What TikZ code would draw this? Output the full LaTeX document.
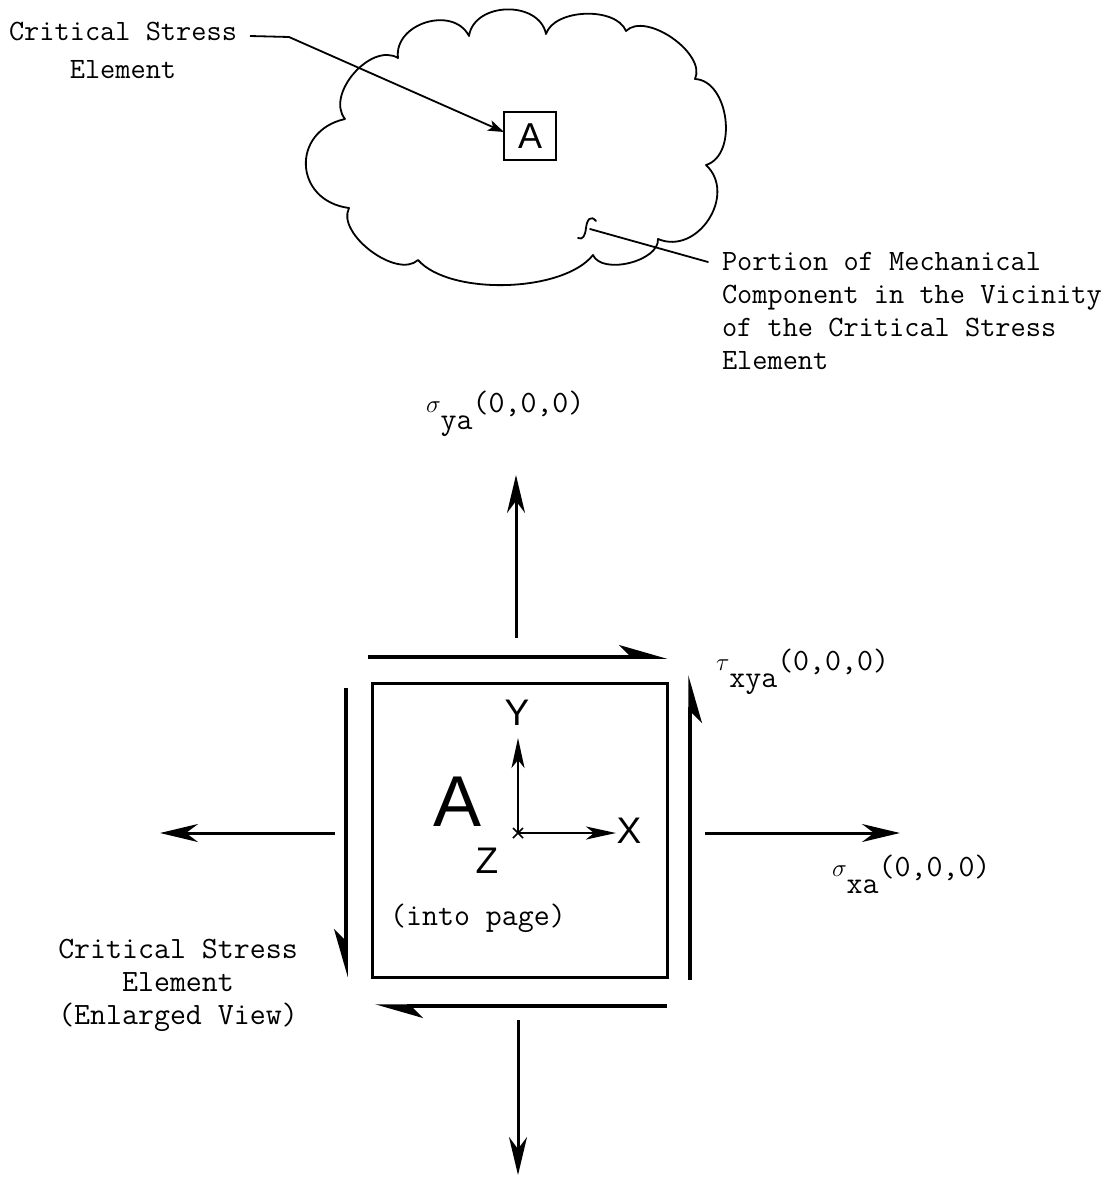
\documentclass[tikz,border=0pt]{standalone}
\usepackage{fontspec}
\setsansfont{Liberation Sans}
\usetikzlibrary{arrows.meta}
\newcommand{\stresslabel}[2]{$#1$\raisebox{-0.55em}{#2}(0,0,0)}
\begin{document}
\begin{tikzpicture}[x=1pt,y=1pt,
  every node/.style={inner sep=0pt, outer sep=0pt},
  typed/.style={font=\ttfamily\fontsize{29.5}{38}\selectfont, align=center},
  typedleft/.style={font=\ttfamily\fontsize{29.5}{33}\selectfont, align=left},
  typedlow/.style={font=\ttfamily\fontsize{31}{33}\selectfont, align=center},
  letter/.style={font=\sffamily\fontsize{37}{37}\selectfont},
  outline/.style={line width=1.8pt, line join=round, line cap=round},
  leader/.style={line width=1.8pt, line join=round, -{Stealth[length=16pt,width=11pt,inset=4pt]}},
  plainleader/.style={line width=1.8pt, line cap=round},
  force/.style={line width=3pt, -{Stealth[length=38pt,width=18pt,inset=12pt]}},
  shearL/.style={line width=3.5pt, -{Stealth[harpoon,length=42pt,width=24pt,inset=12pt]}},
  shearR/.style={line width=3.5pt, -{Stealth[harpoon,swap,length=42pt,width=24pt,inset=12pt]}},
  axis/.style={line width=2.5pt, -{Stealth[length=30pt,width=13pt,inset=8pt]}},
  bump/.style 2 args={bend left=#1, looseness=#2},
]
\useasboundingbox (0,0) rectangle (1114,-1186);

% ---------- outline of the component portion ----------
\coordinate (k1) at (345,-119);
\coordinate (k2) at (398,-58);
\coordinate (k3) at (469,-36);
\coordinate (k4) at (546,-34);
\coordinate (k5) at (626,-31);
\coordinate (k6) at (695,-79);
\coordinate (k7) at (706,-165);
\coordinate (k8) at (658,-239);
\coordinate (k9) at (593,-255);
\coordinate (k10) at (418,-260);
\coordinate (k11) at (349,-208);
\draw[outline] (k1) to[bump={80}{1.0}] (k2) to[bump={80}{1.2}] (k3)
  to[bump={80}{1.15}] (k4) to[bump={70}{0.85}] (k5) to[bump={80}{0.85}] (k6)
  to[bump={80}{1.0}] (k7) to[bump={80}{1.25}] (k8) to[bump={80}{0.85}] (k9)
  to[bump={50}{0.7}] (k10) to[bump={80}{0.85}] (k11) to[bump={80}{1.6}] (k1);

% small element A inside the component
\node[draw, line width=2pt, minimum width=52pt, minimum height=48pt,
      font=\sffamily\fontsize{36}{36}\selectfont] (smallA) at (530,-136) {A};

% label of the element, with its leader
\node[typed] (lblTop) at (123,-50) {Critical Stress\\Element};
\coordinate (leadA) at (250,-36);
\coordinate (leadB) at (289,-37);
\draw[leader] (leadA) -- (leadB) -- ([yshift=4pt]smallA.west);

% label of the component portion, with its leader and squiggle
\draw[outline] (596,-221) .. controls (591,-215) and (587,-219) .. (586,-228)
  .. controls (585,-236) and (583,-240) .. (578,-238);
\node[typedleft, anchor=west] (lblPortion) at (722,-311)
  {Portion of Mechanical\\Component in the Vicinity\\of the Critical Stress\\Element};
\coordinate (leadC) at (590,-229);
\coordinate (leadD) at (708,-262);
\draw[plainleader] (leadC) -- (leadD);

% ---------- enlarged stress element ----------
\node[draw, line width=3pt, minimum width=295pt, minimum height=294pt] (elem) at (519.5,-830) {};

% normal stresses
\coordinate (upS) at (516,-638);   \coordinate (upE) at (516,-475);
\coordinate (dnS) at (518,-1020);  \coordinate (dnE) at (518,-1175);
\coordinate (lfS) at (335,-833);   \coordinate (lfE) at (160,-833);
\coordinate (rtS) at (705,-833);   \coordinate (rtE) at (900,-833);
\draw[force] (upS) -- (upE);
\draw[force] (dnS) -- (dnE);
\draw[force] (lfS) -- (lfE);
\draw[force] (rtS) -- (rtE);

% shear stresses
\coordinate (tpS) at (368,-657);   \coordinate (tpE) at (667,-657);
\coordinate (rsS) at (690,-980);   \coordinate (rsE) at (690,-675);
\coordinate (btS) at (667,-1006);  \coordinate (btE) at (375,-1006);
\coordinate (lsS) at (346,-688);   \coordinate (lsE) at (346,-977);
\draw[shearL] (tpS) -- (tpE);
\draw[shearR] (rsS) -- (rsE);
\draw[shearL] (btS) -- (btE);
\draw[shearR] (lsS) -- (lsE);

% stress labels
\node[typedlow, anchor=base west] (sya) at (426,-412) {\stresslabel{\sigma}{ya}};
\node[typedlow, anchor=base west] (txya) at (716,-670) {\stresslabel{\tau}{xya}};
\node[typedlow, anchor=base west] (sxa) at (832,-876) {\stresslabel{\sigma}{xa}};

% coordinate axes
\coordinate (orig) at (518,-833);
\coordinate (yTip) at (518,-738);
\coordinate (xTip) at (616,-833);
\draw[axis] (orig) -- (yTip);
\draw[axis] (orig) -- (xTip);
\draw[line width=1.5pt] (513,-828) -- (523,-838) (513,-838) -- (523,-828);
\node[letter] (labY) at (517,-713) {Y};
\node[letter] (labX) at (629,-831) {X};
\node[letter] (labZ) at (487,-861) {Z};
\node[font=\sffamily\fontsize{72}{72}\selectfont] (bigA) at (458,-802) {A};
\node[typedlow] (into) at (478,-918) {(into page)};

% label of the enlarged element
\node[typedlow] (lblEl) at (178,-985) {Critical Stress\\Element\\(Enlarged View)};
\end{tikzpicture}
\end{document}
